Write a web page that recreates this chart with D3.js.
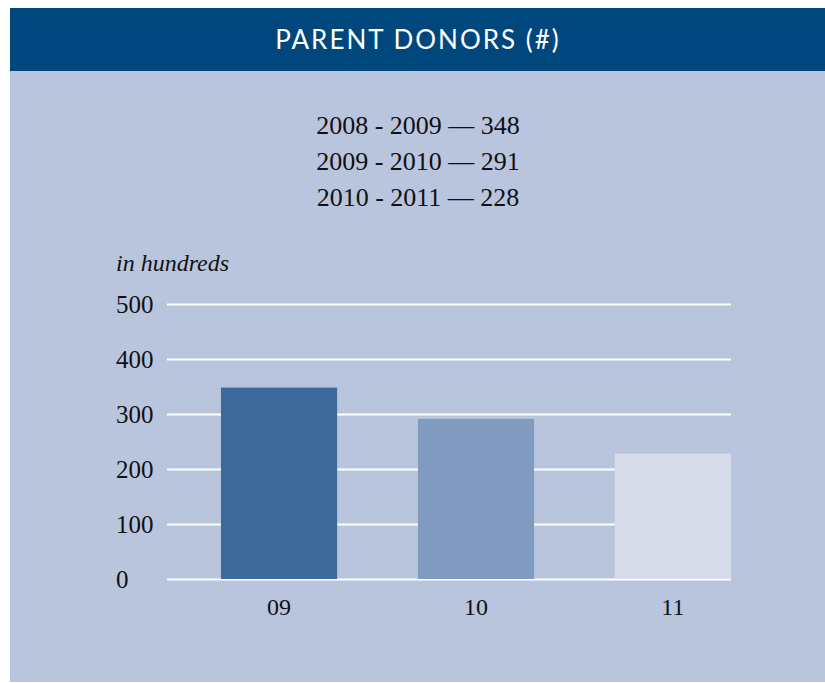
<!DOCTYPE html>
<html lang="en">
<head>
    <meta charset="utf-8">
    <title>Parent Donors</title>
    <script src="https://cdn.jsdelivr.net/npm/d3@7"></script>
    <style type="text/css">
        body { margin: 0; background: #fff; }
        .serif { font-family: "Liberation Serif", "DejaVu Serif", serif; fill: #111; }
        .grid line { stroke: #fff; stroke-width: 2; }
        .grid .domain { display: none; }
    </style>
</head>
<body>
    <div id="chart"></div>
    <script>
        // data
        var years = ["09", "10", "11"];
        var donors = [348, 291, 228];
        var summaryLabels = ["2008 - 2009", "2009 - 2010", "2010 - 2011"];
        var yTicks = [0, 100, 200, 300, 400, 500];
        var barColors = ["#3d6a9b", "#819ac0", "#d6dcea"];

        var width = 825, height = 683;

        var svg = d3.select("#chart")
            .append("svg")
            .attr("width", width)
            .attr("height", height);

        // panel + header
        svg.append("rect")
            .attr("x", 10).attr("y", 8)
            .attr("width", 815).attr("height", 674)
            .attr("fill", "#b8c5dd");
        svg.append("rect")
            .attr("x", 10).attr("y", 8)
            .attr("width", 815).attr("height", 63)
            .attr("fill", "#00477e");
        svg.append("text")
            .attr("x", 418).attr("y", 49)
            .attr("text-anchor", "middle")
            .attr("fill", "#fff")
            .style("font-family", "Lato, 'Open Sans', sans-serif")
            .style("font-size", "26px")
            .style("letter-spacing", "2px")
            .text("PARENT DONORS (#)");

        // summary lines
        svg.selectAll(".summary")
            .data(summaryLabels)
            .enter()
            .append("text")
            .attr("class", "serif summary")
            .attr("x", 418)
            .attr("y", function (d, i) { return 134 + 36 * i; })
            .attr("text-anchor", "middle")
            .style("font-size", "26px")
            .text(function (d, i) { return d + " \u2014 " + donors[i]; });

        svg.append("text")
            .attr("class", "serif")
            .attr("x", 116).attr("y", 271)
            .style("font-size", "24px")
            .style("font-style", "italic")
            .text("in hundreds");

        // scales
        var x = d3.scaleBand()
            .domain(years)
            .range([167, 731])
            .paddingInner(0.41)
            .paddingOuter(0.137)
            .align(1);

        var y = d3.scaleLinear()
            .domain([0, 500])
            .range([579, 304]);

        // gridlines
        svg.append("g")
            .attr("class", "grid")
            .attr("transform", "translate(167,0)")
            .call(d3.axisRight(y).tickValues(yTicks).tickSize(564).tickFormat(""));

        // y labels
        svg.selectAll(".ylabel")
            .data(yTicks)
            .enter()
            .append("text")
            .attr("class", "serif ylabel")
            .attr("x", 116)
            .attr("y", function (d) { return y(d) + 9; })
            .style("font-size", "25px")
            .text(function (d) { return d; });

        // bars
        svg.selectAll(".bar")
            .data(donors)
            .enter()
            .append("rect")
            .attr("class", "bar")
            .attr("x", function (d, i) { return x(years[i]); })
            .attr("y", function (d) { return y(d); })
            .attr("width", x.bandwidth())
            .attr("height", function (d) { return y(0) - y(d); })
            .attr("fill", function (d, i) { return barColors[i]; });

        // x labels
        svg.selectAll(".xlabel")
            .data(years)
            .enter()
            .append("text")
            .attr("class", "serif xlabel")
            .attr("x", function (d) { return x(d) + x.bandwidth() / 2; })
            .attr("y", 615)
            .attr("text-anchor", "middle")
            .style("font-size", "24px")
            .text(function (d) { return d; });
    </script>
</body>
</html>
